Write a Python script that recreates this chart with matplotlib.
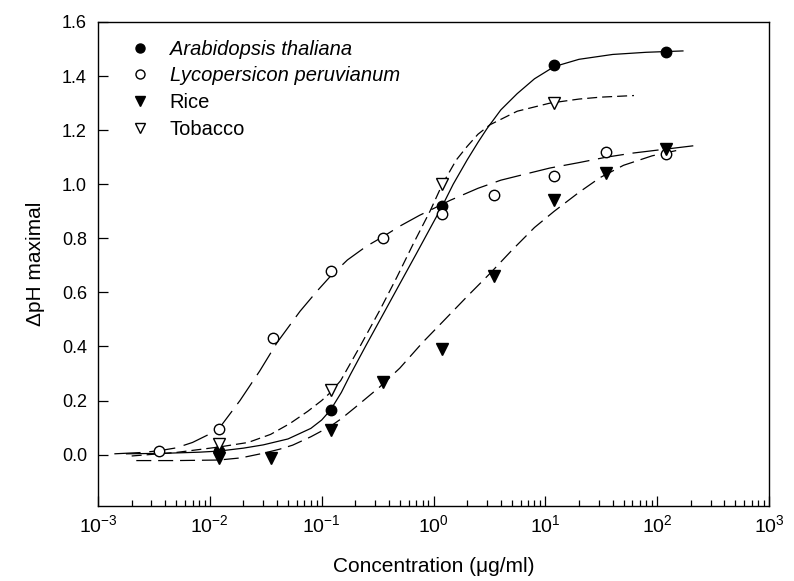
import matplotlib
matplotlib.use("Agg")
import matplotlib.pyplot as plt
from matplotlib.lines import Line2D

plt.rcParams["font.family"] = ["Liberation Sans", "DejaVu Sans"]
plt.rcParams["mathtext.fontset"] = "custom"
plt.rcParams["mathtext.rm"] = "Liberation Sans"
plt.rcParams["mathtext.it"] = "Liberation Sans:italic"

# measured points
arab_x = [0.012, 0.12, 1.2, 12, 120]
arab_y = [0.012, 0.165, 0.92, 1.44, 1.49]

lyco_x = [0.0035, 0.012, 0.037, 0.12, 0.35, 1.2, 3.5, 12, 35, 120]
lyco_y = [0.015, 0.095, 0.43, 0.68, 0.80, 0.89, 0.96, 1.03, 1.12, 1.11]

rice_x = [0.012, 0.035, 0.12, 0.35, 1.2, 3.5, 12, 35, 120]
rice_y = [-0.012, -0.012, 0.09, 0.27, 0.39, 0.66, 0.94, 1.04, 1.13]

tob_x = [0.012, 0.12, 1.2, 12]
tob_y = [0.04, 0.24, 1.0, 1.30]

# fitted curves
arab_cx = [0.0018, 0.004, 0.008, 0.012, 0.02, 0.03, 0.05, 0.08, 0.1, 0.12, 0.15,
           0.18, 0.25, 0.35, 0.5, 0.7, 1.0, 1.2, 1.5, 2.0, 2.5, 3.0, 4.0, 5.6, 8,
           12, 20, 40, 80, 170]
arab_cy = [0.003, 0.005, 0.009, 0.013, 0.024, 0.036, 0.058, 0.097, 0.128, 0.165,
           0.23, 0.295, 0.405, 0.515, 0.632, 0.742, 0.86, 0.92, 1.0, 1.09, 1.155,
           1.205, 1.275, 1.335, 1.39, 1.435, 1.462, 1.48, 1.488, 1.493]

lyco_cx = [0.0014, 0.0025, 0.0036, 0.005, 0.007, 0.0095, 0.012, 0.0186, 0.028, 0.04,
           0.064, 0.091, 0.12, 0.17, 0.25, 0.35, 0.5, 0.75, 1.0, 1.4, 2.5, 4, 7, 11,
           20, 35, 60, 120, 240]
lyco_cy = [0.003, 0.008, 0.015, 0.025, 0.045, 0.072, 0.095, 0.2, 0.31, 0.415,
           0.53, 0.605, 0.66, 0.72, 0.77, 0.805, 0.845, 0.885, 0.91, 0.94, 0.985,
           1.015, 1.04, 1.06, 1.08, 1.10, 1.115, 1.13, 1.145]

rice_cx = [0.0022, 0.005, 0.012, 0.019, 0.03, 0.042, 0.055, 0.08, 0.12, 0.15, 0.2,
           0.33, 0.5, 0.8, 1.2, 2.0, 3.2, 5, 8, 12, 20, 31, 50, 90, 150]
rice_cy = [-0.022, -0.022, -0.02, -0.012, 0.005, 0.02, 0.035, 0.066, 0.105, 0.133,
           0.175, 0.25, 0.32, 0.415, 0.49, 0.585, 0.67, 0.755, 0.84, 0.90, 0.97,
           1.025, 1.07, 1.105, 1.125]

tob_cx = [0.002, 0.005, 0.012, 0.022, 0.035, 0.052, 0.075, 0.1, 0.12, 0.148, 0.22,
          0.33, 0.47, 0.66, 0.93, 1.2, 1.6, 2.0, 2.5, 3.2, 5.6, 11, 20, 31, 62]
tob_cy = [-0.005, 0.008, 0.028, 0.045, 0.075, 0.115, 0.16, 0.2, 0.23, 0.274, 0.40,
          0.533, 0.656, 0.78, 0.90, 1.0, 1.09, 1.14, 1.185, 1.22, 1.27, 1.30, 1.315,
          1.322, 1.328]

labels = ["Arabidopsis thaliana", "Lycopersicon peruvianum", "Rice", "Tobacco"]
xticks = [1e-3, 1e-2, 1e-1, 1e0, 1e1, 1e2, 1e3]
yticks = [0.0, 0.2, 0.4, 0.6, 0.8, 1.0, 1.2, 1.4, 1.6]

fig = plt.figure(figsize=(7.94, 5.81), dpi=100)
ax = fig.add_axes([98 / 794, 1 - 506 / 581, 671 / 794, 484 / 581])

lw = 0.9
ax.plot(arab_cx, arab_cy, color="black", lw=lw, ls="-")
ax.plot(lyco_cx, lyco_cy, color="black", lw=lw, ls=(0, (21, 7)))
ax.plot(rice_cx, rice_cy, color="black", lw=lw, ls=(0, (12, 5.5)))
ax.plot(tob_cx, tob_cy, color="black", lw=lw, ls=(0, (8, 4)))

ms = 7.5
ax.plot(arab_x, arab_y, "o", ms=ms, mfc="black", mec="black", zorder=3)
ax.plot(lyco_x, lyco_y, "o", ms=ms, mfc="white", mec="black", mew=1.0, zorder=3)
ax.plot(rice_x, rice_y, "v", ms=ms + 0.5, mfc="black", mec="black", zorder=3)
ax.plot(tob_x, tob_y, "v", ms=ms + 0.5, mfc="white", mec="black", mew=1.0, zorder=3)

ax.set_xscale("log")
ax.set_xlim(1e-3, 1e3)
ax.set_ylim(-0.19, 1.6)
ax.set_xticks(xticks)
ax.set_yticks(yticks)
ax.set_yticklabels(["%.1f" % v for v in yticks])

ax.tick_params(axis="x", which="major", direction="in", length=7, width=0.9, pad=6,
               labelsize=14)
ax.tick_params(axis="x", which="minor", direction="in", length=4.5, width=0.9)
ax.tick_params(axis="y", direction="in", length=7, width=0.9, pad=8, labelsize=13)
for s in ax.spines.values():
    s.set_linewidth(1.0)

ax.set_xlabel("Concentration (\u03bcg/ml)", fontsize=15, labelpad=15)
ax.set_ylabel("\u0394pH maximal", fontsize=15, labelpad=12)

handles = [
    Line2D([], [], ls="none", marker="o", ms=6.5, mfc="black", mec="black"),
    Line2D([], [], ls="none", marker="o", ms=6.5, mfc="white", mec="black"),
    Line2D([], [], ls="none", marker="v", ms=7, mfc="black", mec="black"),
    Line2D([], [], ls="none", marker="v", ms=7, mfc="white", mec="black"),
]
leg = ax.legend(handles, labels, loc="upper left", bbox_to_anchor=(0.035, 0.98),
                frameon=False, fontsize=14.5, handlelength=1.0, handletextpad=1.0,
                labelspacing=0.38, borderaxespad=0)
leg.get_texts()[0].set_style("italic")
leg.get_texts()[1].set_style("italic")

fig.savefig("out.png", dpi=100)
